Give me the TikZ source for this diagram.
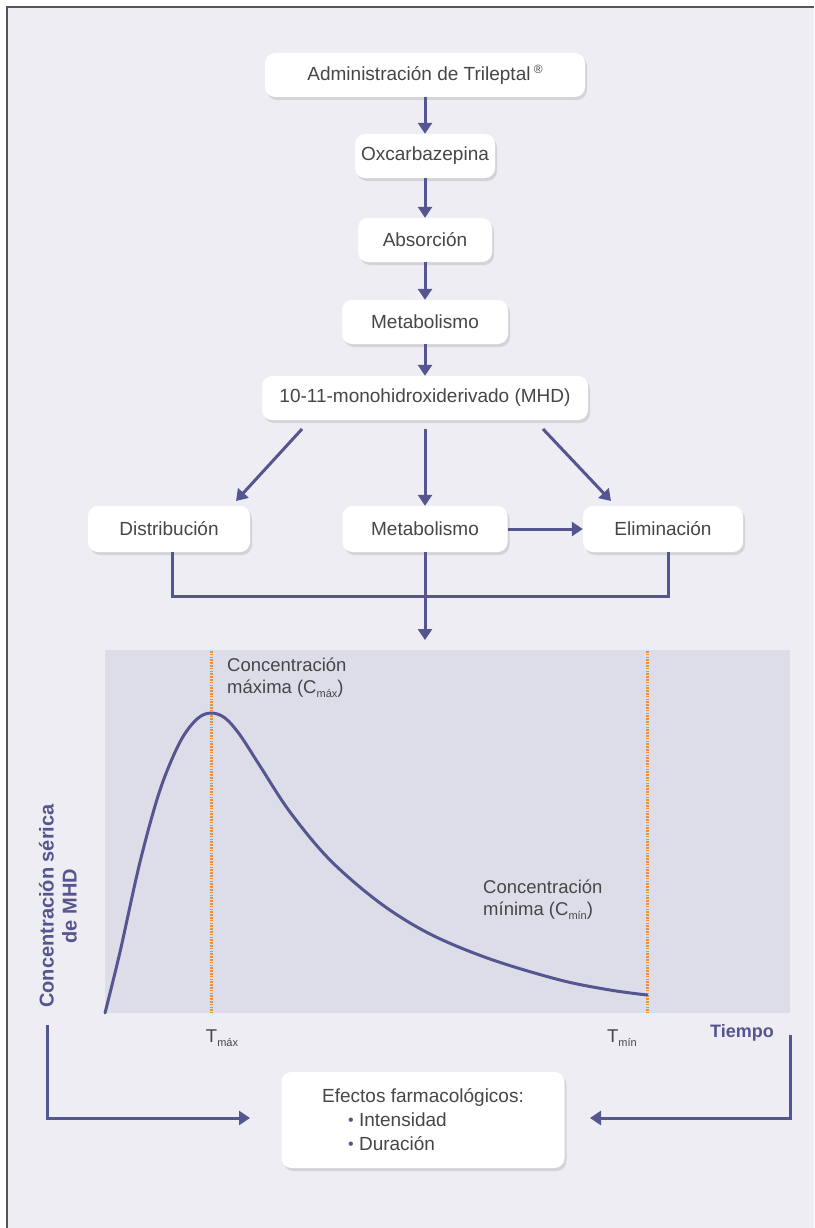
\documentclass[tikz,border=0pt]{standalone}
\usepackage{fontspec}
\setmainfont{Liberation Sans}
\usetikzlibrary{arrows.meta,shadows,calc}
\definecolor{bg}{HTML}{EEEDF4}
\definecolor{chartbg}{HTML}{DDDDE9}
\definecolor{arr}{HTML}{55558F}
\definecolor{txt}{HTML}{464646}
\definecolor{dotc}{HTML}{E8923A}
\definecolor{framec}{HTML}{555555}
\newcommand{\sbx}[1]{\raisebox{-4pt}{\fontsize{11}{12}\selectfont #1}}
\newcommand{\pbul}{{\color{arr}\raisebox{1pt}{\fontsize{16}{16}\selectfont\textbullet}}}
\begin{document}
\begin{tikzpicture}[x=1pt,y=-1pt,
  box/.style={fill=white, rounded corners=10pt, minimum height=44pt, inner sep=4pt,
    text=txt, font=\fontsize{19}{22}\selectfont,
    drop shadow={shadow xshift=2pt, shadow yshift=-3pt, opacity=0.35, fill=black!35}},
  flow/.style={draw=arr, line width=3pt, -{Triangle[length=11pt,width=14pt]}},
  link/.style={draw=arr, line width=3pt},
  lbl/.style={text=txt, font=\fontsize{18.5}{22}\selectfont, align=left, inner sep=0pt},
  axlbl/.style={text=arr, font=\fontsize{18}{21}\selectfont\bfseries, align=center, inner sep=0pt},
  dotline/.style={draw=dotc, line width=3pt, dash pattern=on 1.6pt off 1.2pt},
  curve/.style={draw=arr, line width=3pt, line cap=round}
]
\useasboundingbox (0,0) rectangle (814,1228);
\fill[white] (0,0) rectangle (814,1228);
\fill[bg] (7,7) rectangle (814,1228);
\draw[framec, line width=2pt] (7,1228) -- (7,7) -- (814,7);

% flow boxes
\node[box, minimum width=320pt] (adm) at (425,75) {Administración de Trileptal\,\raisebox{7pt}{\fontsize{12}{12}\selectfont ®}};
\node[box, minimum width=140pt] (oxc) at (425,156) {Oxcarbazepina};
\node[box, minimum width=134pt] (abs) at (425,240) {Absorción};
\node[box, minimum width=166pt] (met) at (425,322) {Metabolismo};
\node[box, minimum width=326pt] (mhd) at (425,398) {10-11-monohidroxiderivado (MHD)};
\node[box, minimum width=162pt, minimum height=46pt] (dist) at (169,529) {Distribución};
\node[box, minimum width=165pt, minimum height=46pt] (met2) at (425,529) {Metabolismo};
\node[box, minimum width=160pt, minimum height=46pt] (elim) at (663,529) {Eliminación};

\draw[flow] (adm) -- (oxc);
\draw[flow] (oxc) -- (abs);
\draw[flow] (abs) -- (met);
\draw[flow] (met) -- (mhd);

\coordinate (mL) at (302,429);
\coordinate (mR) at (543,429);
\coordinate (mC) at (425,429);
\coordinate (dT) at (236,501);
\coordinate (eT) at (611,501);
\draw[flow] (mL) -- (dT);
\draw[flow] (mC) -- (met2);
\draw[flow] (mR) -- (eT);
\draw[flow] (met2.east) -- (elim.west);

% collectors
\coordinate (dB) at (172,552);
\coordinate (eB) at (668,552);
\draw[link] (dB) -- (172,596) -- (668,596) -- (eB);

% chart
\node[fill=chartbg, minimum width=685pt, minimum height=363pt, inner sep=0pt, anchor=north west] (chart) at (105,650) {};
\coordinate (cTop) at (425,640);
\draw[flow] (met2.south) -- (cTop);

\draw[dotline] (211,651) -- (211,1013);
\draw[dotline] (647,651) -- (647,1013);

\draw[curve] plot[smooth, tension=0.55] coordinates {
 (105,1013) (120,952) (140,862) (160,790) (180,742) (197,719) (211,713)
 (225,718) (240,735) (260,766) (290,812) (330,860) (380,903) (430,934)
 (490,959) (560,980) (610,990) (647,995)};

\node[lbl, anchor=north west] (cmax) at (227,658) {Concentración\\máxima (C\sbx{máx})};
\node[lbl, anchor=north west] (cmin) at (483,880) {Concentración\\mínima (C\sbx{mín})};
\node[lbl] (tmax) at (222,1038) {T\sbx{máx}};
\node[lbl] (tmin) at (622,1038) {T\sbx{mín}};
\node[axlbl] (tiempo) at (742,1033) {Tiempo};
\node[axlbl, rotate=90, font=\fontsize{20}{23}\selectfont\bfseries] (ylab) at (58,906) {Concentración sérica\\de MHD};

% effects
\node[box, minimum width=283pt, minimum height=96pt, align=left, inner sep=0pt] (efx) at (423,1120)
 {Efectos farmacológicos:\\[2pt]
  \hspace*{26pt}\pbul\ Intensidad\\[2pt]
  \hspace*{26pt}\pbul\ Duración};

\coordinate (yS) at (47,1025);
\coordinate (lA) at (250,1118);
\coordinate (rS) at (790,1035);
\coordinate (rA) at (590,1118);
\draw[flow] (yS) |- (lA);
\draw[flow] (rS) |- (rA);
\end{tikzpicture}
\end{document}
